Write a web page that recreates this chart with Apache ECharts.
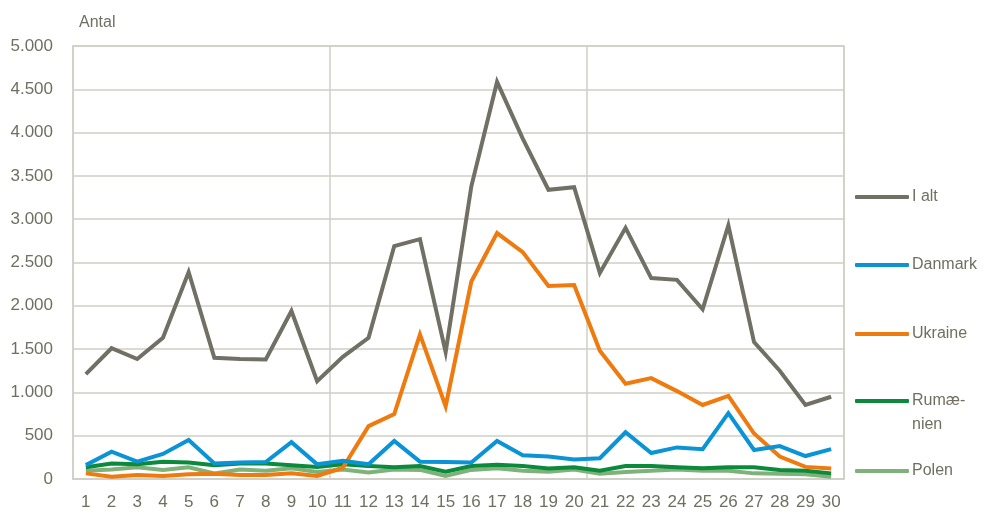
<!DOCTYPE html>
<html>
<head>
<meta charset="utf-8">
<script src="https://cdn.jsdelivr.net/npm/echarts@6/dist/echarts.min.js"></script>
<style>
  html, body { margin: 0; padding: 0; background: #fff; }
  #chart { width: 995px; height: 513px; }
</style>
</head>
<body>
<div id="chart"></div>
<script>
// dage
const days = Array.from({length: 30}, (_, i) => String(i + 1));

const iAlt     = [1210, 1510, 1385, 1630, 2390, 1400, 1385, 1380, 1940, 1130,
                  1410, 1630, 2690, 2770, 1465, 3380, 4585, 3930, 3340, 3370,
                  2380, 2900, 2320, 2300, 1960, 2930, 1580, 1250, 855, 950];
const danmark  = [160, 315, 200, 290, 450, 180, 190, 195, 425, 170,
                  210, 170, 440, 200, 195, 190, 440, 275, 260, 225,
                  240, 540, 300, 365, 345, 760, 335, 380, 265, 345];
const ukraine  = [65, 27, 45, 35, 55, 60, 45, 45, 65, 35,
                  130, 610, 750, 1670, 840, 2280, 2840, 2620, 2230, 2240,
                  1480, 1100, 1165, 1015, 855, 960, 525, 260, 140, 120];
const rumaenien = [135, 180, 170, 200, 190, 160, 180, 180, 160, 140,
                   170, 150, 135, 150, 85, 150, 165, 150, 120, 135,
                   95, 150, 150, 135, 125, 135, 135, 105, 95, 65];
const polen    = [95, 110, 135, 105, 135, 65, 110, 95, 125, 80,
                  110, 75, 110, 105, 35, 105, 125, 95, 85, 110,
                  60, 80, 95, 110, 95, 95, 65, 60, 55, 25];

const seriesNames = ['I alt', 'Danmark', 'Ukraine', 'Rumænien', 'Polen'];
const seriesData = [iAlt, danmark, ukraine, rumaenien, polen];
const colors = ['#707064', '#0a94d6', '#ef7a0e', '#0b8a3c', '#7fb27a'];

const textColor = '#6f6f61';
const gridColor = '#cfcfc6';
const fontFamily = '"Liberation Sans", Arial, sans-serif';

// one legend per entry, placed down the right side
const legendTops = [180, 248, 317, 360, 454];

function fmt(v) {
  return String(v).replace(/\B(?=(\d{3})+(?!\d))/g, '.');
}

const chart = echarts.init(document.getElementById('chart'));

const option = {
  animation: false,
  color: colors,
  title: {
    text: 'Antal',
    left: 74,
    top: 10,
    textStyle: { color: textColor, fontSize: 16, fontWeight: 'normal', fontFamily: fontFamily }
  },
  grid: {
    left: 73, right: 151, top: 46, bottom: 34,
    show: true, borderColor: gridColor, borderWidth: 1.5
  },
  legend: seriesNames.map((name, i) => ({
    data: [name],
    left: 850,
    top: legendTops[i],
    orient: 'vertical',
    icon: 'roundRect',
    itemWidth: 54,
    itemHeight: 4,
    itemGap: 0,
    selectedMode: false,
    // empty first line keeps "Rumæ-" level with the icon, "nien" below
    formatter: n => n === 'Rumænien' ? '\nRumæ-\nnien' : n,
    textStyle: {
      color: textColor, fontSize: 16, fontFamily: fontFamily,
      lineHeight: 24,
      padding: [0, 0, 0, -2]
    }
  })),
  xAxis: {
    type: 'category',
    data: days,
    boundaryGap: true,
    axisLine: { show: true, lineStyle: { color: gridColor, width: 1.5 } },
    axisTick: { show: false },
    axisLabel: {
      color: textColor, fontSize: 17, fontFamily: fontFamily,
      margin: 15, interval: 0
    },
    splitLine: {
      show: true,
      interval: (idx) => idx === 10 || idx === 20,
      lineStyle: { color: gridColor, width: 1.5 }
    }
  },
  yAxis: {
    type: 'value',
    min: 0,
    max: 5000,
    interval: 500,
    axisLine: { show: true, lineStyle: { color: gridColor, width: 1.5 } },
    axisTick: { show: false },
    axisLabel: {
      color: textColor, fontSize: 17, fontFamily: fontFamily,
      margin: 20,
      formatter: v => fmt(v)
    },
    splitLine: { lineStyle: { color: gridColor, width: 1.5 } }
  },
  series: seriesNames.map((name, i) => ({
    name: name,
    type: 'line',
    data: seriesData[i],
    symbol: 'none',
    z: 6 - i,
    lineStyle: { width: 4, color: colors[i], join: 'miter' }
  }))
};

chart.setOption(option);
</script>
</body>
</html>
